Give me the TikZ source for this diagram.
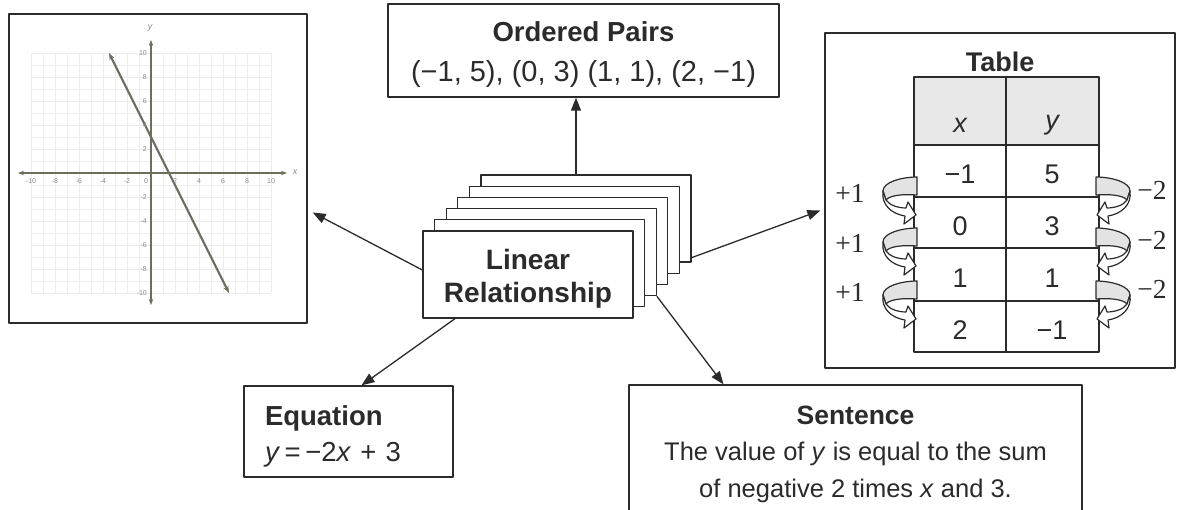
\documentclass[tikz,border=0pt]{standalone}
\usepackage{fontspec}
\setmainfont{Liberation Sans}
\newfontfamily\serifnum{Liberation Serif}
\usetikzlibrary{arrows.meta,calc}
\definecolor{ink}{HTML}{2B2B2B}
\definecolor{axiscol}{HTML}{6E6E60}
\newcommand\spiralarrow[3]{%
\begin{scope}[shift={(#1,#2)}, xscale=#3]
 \filldraw[fill=gray!22, draw=ink, line width=1.2pt] (3,-20) .. controls (-12,-20) and (-31,-15) .. (-31,-6) -- (-28,3) .. controls (-24,-2) and (-10,-3) .. (3,-2) -- cycle;
 \filldraw[fill=white, draw=ink, line width=1.2pt] (-31,-6) .. controls (-33,8) and (-22,17) .. (-9,19) -- (-10,27) -- (2,18) -- (-6,5) -- (-8,11) .. controls (-16,11) and (-25,8) .. (-28,3) -- cycle;
\end{scope}}
\begin{document}
\begin{tikzpicture}[x=1pt,y=-1pt,line join=round]
\tikzset{
 box/.style={draw=ink, line width=1.3pt, fill=white, inner sep=0pt, text=ink},
 card/.style={box, minimum width=210pt, minimum height=87pt},
 txt/.style={inner sep=0pt, text=ink},
 arr/.style={draw=ink, line width=1.3pt, -{Triangle[length=13pt,width=10pt]}},
 tick/.style={font=\fontsize{7}{7}\selectfont, text=axiscol!80, inner sep=0pt},
 big/.style={font=\fontsize{27}{27}\selectfont, text=ink, inner sep=0pt},
}
\useasboundingbox (0,0) rectangle (1178,510);

% graph
\node[box, minimum width=298pt, minimum height=309pt] (graph) at (158,168.5) {};
\foreach \i in {-10,...,10}{
  \draw[gray!14, line width=0.6pt] ({151+12*\i},53) -- ({151+12*\i},293);
  \draw[gray!14, line width=0.6pt] (31,{173+12*\i}) -- (271,{173+12*\i});
}
\draw[axiscol, line width=1.3pt, {Stealth[length=6pt]}-{Stealth[length=6pt]}] (18,173) -- (287,173);
\draw[axiscol, line width=1.3pt, {Stealth[length=6pt]}-{Stealth[length=6pt]}] (151,40) -- (151,305);
\draw[axiscol, line width=2.2pt, {Stealth[length=7pt]}-{Stealth[length=7pt]}] (109,53) -- (229,293);
\foreach \v in {-10,-8,...,10}{
  \ifnum\v=0\else
    \node[tick] at ({151+12*\v},181) {\v};
    \node[tick, anchor=east] at (147,{173-12*\v}) {\v};
  \fi
}
\node[tick] at (146,181) {0};
\node[tick, font=\fontsize{9}{9}\selectfont\itshape] at (295,172) {x};
\node[tick, font=\fontsize{9}{9}\selectfont\itshape] at (150,28) {y};

% ordered pairs
\node[box, minimum width=391pt, minimum height=93pt] (pairs) at (583.5,50.5) {};
\node[txt, align=center, font=\fontsize{27.5}{40}\selectfont] (pairst) at ($(pairs.center)+(0,4)$) {\textbf{Ordered Pairs}\\{\fontsize{29}{40}\selectfont (−1, 5), (0, 3) (1, 1), (2, −1)}};

% stacked cards
\foreach \k in {5,4,...,1}{
  \node[card] (card\k) at ({528+11.6*\k},{274.5-11.2*\k}) {};
}
\node[card] (card0) at (528,274.5) {};
\node[txt, align=center, font=\fontsize{28}{33}\selectfont\bfseries] (card0t) at ($(card0.center)+(0,4)$) {Linear\\Relationship};

% equation
\node[box, minimum width=209pt, minimum height=91pt] (eq) at (348.5,431.5) {};
\node[txt, align=left, text width=167pt, font=\fontsize{27.5}{36}\selectfont] (eqt) at ($(eq.center)+(0,5)$) {\textbf{Equation}\\\textit{y}\,=\,−2\textit{x} + 3};

% sentence
\node[box, minimum width=453pt, minimum height=130pt] (sent) at (855.5,450) {};
\node[txt, align=center, font=\fontsize{25.5}{36.5}\selectfont] (sentt) at ($(sent.center)+(0,4)$) {{\fontsize{26.5}{36.5}\selectfont\bfseries Sentence}\\The value of \textit{y} is equal to the sum\\of negative 2 times \textit{x} and 3.};

% table
\node[box, minimum width=350pt, minimum height=335pt] (table) at (1000,200.5) {};
\node[big, font=\fontsize{27}{27}\selectfont\bfseries] (ttitle) at (1000,62) {Table};
\fill[gray!18] (914,77) rectangle (1099,145);
\draw[ink, line width=1.3pt] (914,77) rectangle (1099,352);
\foreach \yy in {145,197,248,301}{\draw[ink, line width=1.3pt] (914,\yy) -- (1099,\yy);}
\draw[ink, line width=1.3pt] (1006,77) -- (1006,352);
\node[big, font=\fontsize{27}{27}\selectfont\itshape] (hx) at (960,125) {x};
\node[big, font=\fontsize{27}{27}\selectfont\itshape] (hy) at (1052,125) {y};
\node[big] (x1) at (960,174) {−1};
\node[big] (y1) at (1052,174) {5};
\node[big] (x2) at (960,226) {0};
\node[big] (y2) at (1052,226) {3};
\node[big] (x3) at (960,278) {1};
\node[big] (y3) at (1052,278) {1};
\node[big] (x4) at (960,330) {2};
\node[big] (y4) at (1052,330) {−1};

\foreach \yb in {197,248,301}{
  \spiralarrow{914}{\yb}{1}
  \spiralarrow{1099}{\yb}{-1}
}
\foreach \yl/\nm in {193/a,243/b,292/c}{
  \node[big, font=\serifnum\fontsize{27.5}{27}\selectfont] (pl\nm) at (850,\yl) {+1};
  \node[big, font=\serifnum\fontsize{27.5}{27}\selectfont] (mi\nm) at (1152,\yl-3) {−2};
}

% connectors
\draw[arr] ([xshift=-10pt]card5.north) -- ([xshift=-10pt]card5.north |- pairs.south);
\draw[arr] ([yshift=4.5pt]card0.west) -- ($(graph.east)+(5,44)$);
\draw[arr] ([xshift=-73pt]card0.south) -- ($(eq.north)+(13,0)$);
\draw[arr] (card2.south east) -- ($(sent.north)+(-132,0)$);
\draw[arr] ([yshift=5pt]card5.south east) -- ($(table.west)+(-4,10)$);
\end{tikzpicture}
\end{document}
